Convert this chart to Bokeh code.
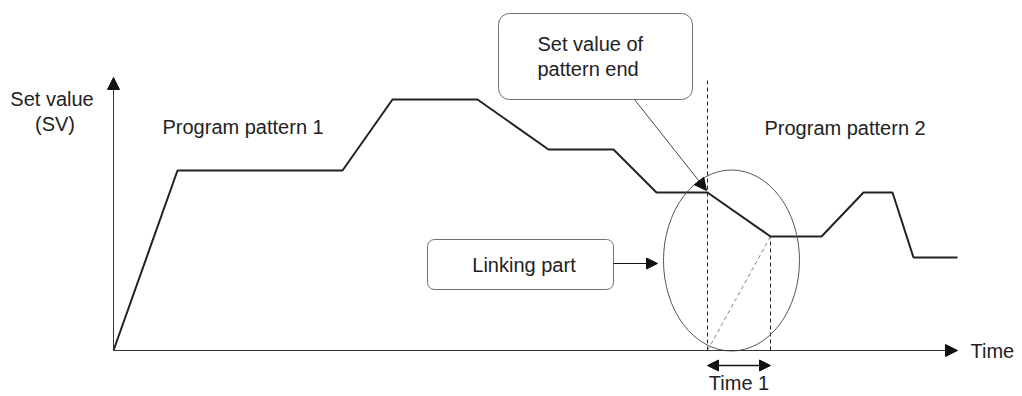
from bokeh.plotting import figure
from bokeh.models import Range1d, Arrow, NormalHead, BoxAnnotation, Label
from bokeh.embed import file_html
from bokeh.resources import INLINE

# ---- data (time units, set-value units) ----
p1_time = [0, 6.4, 22.9, 27.9, 36.4, 43.5, 50.0, 54.3, 59.4]
p1_sv = [0, 90, 90, 125.5, 125.5, 100.5, 100.5, 79, 79]
p2_time = [65.7, 70.8, 75.0, 77.9, 80.0, 84.4]
p2_sv = [57, 57, 79, 79, 46.5, 46.5]
time_end = 84.4
sv_top = 136.5

FONT = "Liberation Sans"
FS = "20px"
TXT = "#222222"
LINE = "#222222"

W, H = 1018, 396
p = figure(width=W, height=H, x_range=Range1d(-11.3, -11.3 + W / 10), y_range=Range1d(175 - H / 2, 175),
           x_axis_type=None, y_axis_type=None, toolbar_location=None, output_backend="svg",
           min_border=0, outline_line_color=None, background_fill_color="white")
p.grid.visible = False

# axes with arrows
p.add_layout(Arrow(x_start=0, y_start=0, x_end=0, y_end=sv_top, line_color="#333333", line_width=1,
                   end=NormalHead(size=12, fill_color="#111111", line_color="#111111")))
p.add_layout(Arrow(x_start=0, y_start=0, x_end=time_end, y_end=0, line_color="#333333", line_width=1,
                   end=NormalHead(size=12, fill_color="#111111", line_color="#111111")))

# guide lines around the linking part
t_end1 = p1_time[-1]
t_start2 = p2_time[0]
p.line([t_end1, t_end1], [0, sv_top], line_color="#222222", line_width=1, line_dash="4 3")
p.line([t_start2, t_start2], [0, p2_sv[0]], line_color="#222222", line_width=1, line_dash="4 3")
p.line([t_end1, t_start2], [0, p2_sv[0]], line_color="#888888", line_width=1, line_dash="4 3")

# program patterns (linked)
p.line(p1_time + p2_time, p1_sv + p2_sv, line_color=LINE, line_width=2)

# ellipse around linking part
p.ellipse(x=[61.8], y=[45], width=[13.6], height=[90.5], fill_color=None,
          line_color="#555555", line_width=1)

# Time 1 double arrow
p.add_layout(Arrow(x_start=t_end1, y_start=-7.5, x_end=t_start2, y_end=-7.5, line_color="#111111",
                   line_width=1.5,
                   start=NormalHead(size=11, fill_color="#111111", line_color="#111111"),
                   end=NormalHead(size=11, fill_color="#111111", line_color="#111111")))

# callout box
p.add_layout(BoxAnnotation(left=38.5, right=57.9, top=168.5, bottom=125.5, fill_alpha=0,
                           line_color="#707070", line_alpha=1, line_width=1, border_radius=11))
p.add_layout(Arrow(x_start=52.1, y_start=125.5, x_end=t_end1 - 0.1, y_end=p1_sv[-1] + 1,
                   line_color="#444444", line_width=1,
                   end=NormalHead(size=12, fill_color="#111111", line_color="#111111")))

# linking part box
p.add_layout(BoxAnnotation(left=31.4, right=50.0, top=55.5, bottom=30.5, fill_alpha=0,
                           line_color="#707070", line_alpha=1, line_width=1, border_radius=7))
p.add_layout(Arrow(x_start=50.0, y_start=43.5, x_end=54.4, y_end=43.5, line_color="#111111",
                   line_width=1.2,
                   end=NormalHead(size=11, fill_color="#111111", line_color="#111111")))


def lab(x, y, text, align="left", baseline="middle"):
    p.add_layout(Label(x=x, y=y, text=text, text_font=FONT, text_font_size=FS, text_color=TXT,
                       text_align=align, text_baseline=baseline))


lab(-6.15, 126, "Set value", align="center")
lab(-5.85, 113.5, "(SV)", align="center")
lab(4.9, 112, "Program pattern 1")
lab(65.1, 111.5, "Program pattern 2")
lab(85.7, 0, "Time")
lab(62.55, -21.5, "Time 1", align="center", baseline="bottom")
lab(42.4, 153.5, "Set value of")
lab(42.4, 141, "pattern end")
lab(41.05, 43, "Linking part", align="center")

open("out.html", "w").write(file_html(p, INLINE))
